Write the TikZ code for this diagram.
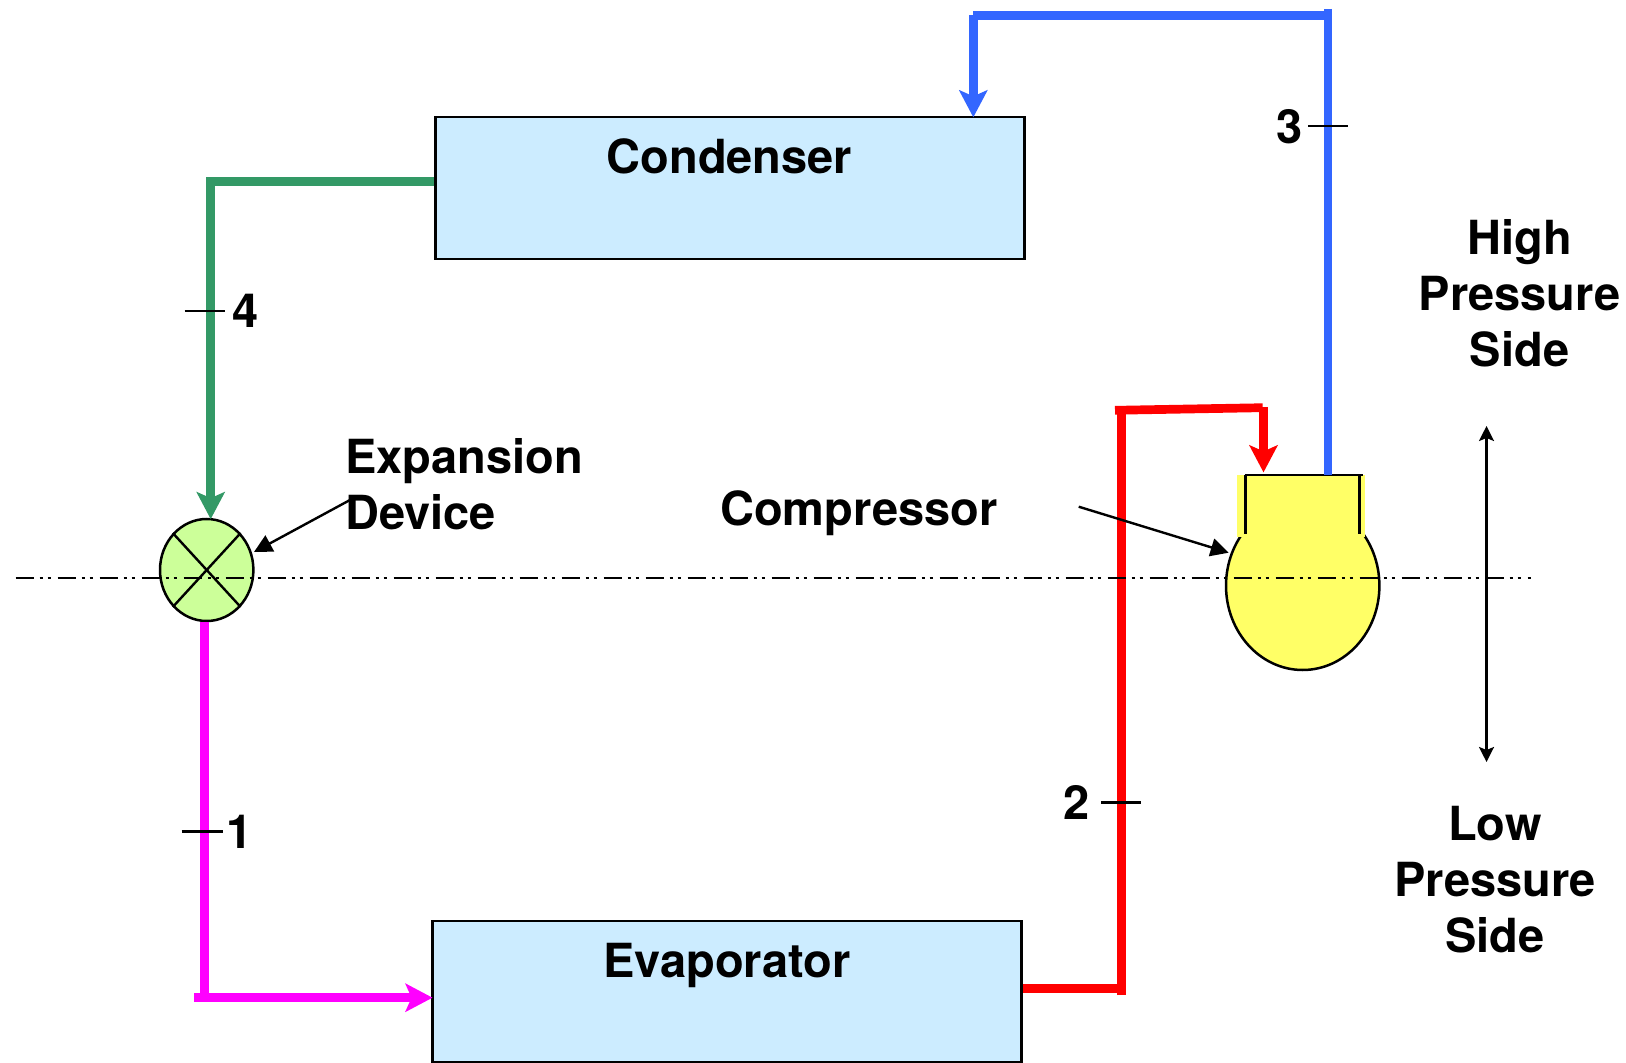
\documentclass[tikz,border=0pt]{standalone}
\usepackage{fontspec}
\setmainfont{TeX Gyre Heros}
\usetikzlibrary{arrows.meta,shapes.geometric}
\definecolor{boxblue}{HTML}{CCECFF}
\definecolor{pipeblue}{HTML}{3366FF}
\definecolor{pipegreen}{HTML}{339966}
\definecolor{pipemagenta}{HTML}{FF00FF}
\definecolor{pipered}{HTML}{FF0000}
\definecolor{compyellow}{HTML}{FFFF66}
\definecolor{valvegreen}{HTML}{CCFF99}
\tikzset{
  unitbox/.style={draw=black,line width=1.25pt,fill=boxblue,inner sep=0pt,minimum width=294.6pt},
  pipe/.style={line width=4.35pt},
  pipetip/.style={-{Stealth[length=13.5pt,width=14pt,inset=3pt]},shorten >=-0.7pt},
  thin line/.style={draw=black,line width=1.2pt},
  pointer/.style={thin line,-{Stealth[length=9pt,width=9pt,inset=0pt]}},
  label/.style={font=\bfseries\fontsize{23.5}{28}\selectfont,inner sep=0pt,text=black},
  tickline/.style={draw=black,line width=1.2pt},
  centerline/.style={draw=black,line width=1.05pt,dash pattern=on 9pt off 3pt on 1.5pt off 2.5pt on 1.5pt off 3.5pt}
}
\begin{document}
\begin{tikzpicture}[x=0.5pt,y=-0.5pt]
\useasboundingbox (0,0) rectangle (1626,1063);
% units
\node[unitbox,minimum height=71pt] (cond) at (730,188.2) {};
\node[unitbox,minimum height=70.4pt] (evap) at (727,991.6) {};
\node[label] (condt) at (729.5,156.6) {Condenser};
\node[label] (evapt) at (727,965) {Evaporator};
% compressor
\node[ellipse,draw=black,line width=1.25pt,fill=compyellow,inner sep=0pt,minimum width=76.7pt,minimum height=84.3pt] (comp) at (1302.7,585.7) {};
\fill[compyellow] (1237.3,475) rectangle (1365,537);
\coordinate (cuptl) at (1245.3,475);
\coordinate (cuptr) at (1359.7,475);
\coordinate (cupbl) at (1245.3,534);
\coordinate (cupbr) at (1359.7,534);
\coordinate (cuptop) at (1363,475);
\draw[line width=1.2pt] (cuptl) -- (cuptop);
\draw[line width=1.7pt] (cuptl) -- (cupbl);
\draw[line width=1.7pt] (cuptr) -- (cupbr);
% expansion device
\node[ellipse,draw=black,line width=1.25pt,fill=valvegreen,inner sep=0pt,minimum width=46.7pt,minimum height=51pt] (valve) at (206.7,570) {};
\draw[line width=1.2pt] (valve.north west) -- (valve.south east);
\draw[line width=1.2pt] (valve.north east) -- (valve.south west);
% blue pipe
\coordinate (btop) at (1328,9);
\coordinate (bmid) at (1328,15.5);
\coordinate (bleft) at (973.3,15.5);
\draw[pipe,pipeblue] (btop) -- (cuptl -| btop);
\draw[pipe,pipeblue] (bmid) -- (bleft);
\draw[pipe,pipeblue,pipetip] (bleft |- 0,15) -- (bleft |- cond.north);
% green pipe
\coordinate (gcorner) at (210.7,181.5);
\draw[pipe,pipegreen] (gcorner -| cond.west) -- (gcorner);
\draw[pipe,pipegreen,pipetip] (210.7,177.2) -- (gcorner |- valve.north);
% magenta pipe
\coordinate (mcorner) at (204.5,997.7);
\coordinate (mleft) at (194,997.7);
\draw[pipe,pipemagenta] (mcorner |- valve.south) -- (mcorner);
\draw[pipe,pipemagenta,pipetip] (mleft) -- (mleft -| evap.west);
% red pipe
\coordinate (rbottom) at (1121.7,995);
\coordinate (rjoin) at (1121.7,988.3);
\coordinate (rtop) at (1121.7,410);
\coordinate (rtl) at (1115,410.3);
\coordinate (rtr) at (1262.7,407.7);
\coordinate (rdown) at (1263.5,407);
\coordinate (rtip) at (1263.5,471);
\draw[pipe,pipered] (rjoin -| evap.east) -- (rjoin);
\draw[pipe,pipered] (rbottom) -- (rtop);
\draw[pipe,pipered] (rtl) -- (rtr);
\draw[pipe,pipered,pipetip] (rdown) -- (rtip);
% texts
\node[label,align=left,anchor=west] (exptext) at (345,484) {Expansion\\Device};
\node[label,anchor=west] (comptext) at (719.7,513) {Compressor};
\node[label,align=center] (hightext) at (1519.5,293.5) {High\\Pressure\\Side};
\node[label,align=center] (lowtext) at (1495,880) {Low\\Pressure\\Side};
\node[label] (n4) at (246,311) {4};
\node[label] (n1) at (239.5,831.6) {1};
\node[label] (n3) at (1289.5,126.5) {3};
\node[label] (n2) at (1077,802.6) {2};
% ticks
\coordinate (t4a) at (184.6,311); \coordinate (t4b) at (225,311);
\coordinate (t1a) at (181.5,831.6); \coordinate (t1b) at (223,831.6);
\coordinate (t3a) at (1308,126); \coordinate (t3b) at (1348,126);
\coordinate (t2a) at (1101,802.6); \coordinate (t2b) at (1141,802.6);
\draw[tickline] (t4a) -- (t4b);
\draw[tickline] (t1a) -- (t1b);
\draw[tickline] (t3a) -- (t3b);
\draw[tickline] (t2a) -- (t2b);
% pointers
\coordinate (expfrom) at (350,500);
\coordinate (expto) at (254,552);
\coordinate (compfrom) at (1078.7,506.7);
\coordinate (compto) at (1228.7,552.7);
\draw[pointer] (expfrom) -- (expto);
\draw[pointer] (compfrom) -- (compto);
% pressure divider
\coordinate (phigh) at (1486.5,426);
\coordinate (plow) at (1486.5,762);
\draw[thin line,{Stealth[length=7.5pt,width=7.5pt,inset=1.5pt]}-{Stealth[length=7.5pt,width=7.5pt,inset=1.5pt]}] (phigh) -- (plow);
% centre line
\coordinate (cla) at (15.5,577.6);
\coordinate (clb) at (1530.6,577.6);
\draw[centerline] (cla) -- (clb);
\end{tikzpicture}
\end{document}
